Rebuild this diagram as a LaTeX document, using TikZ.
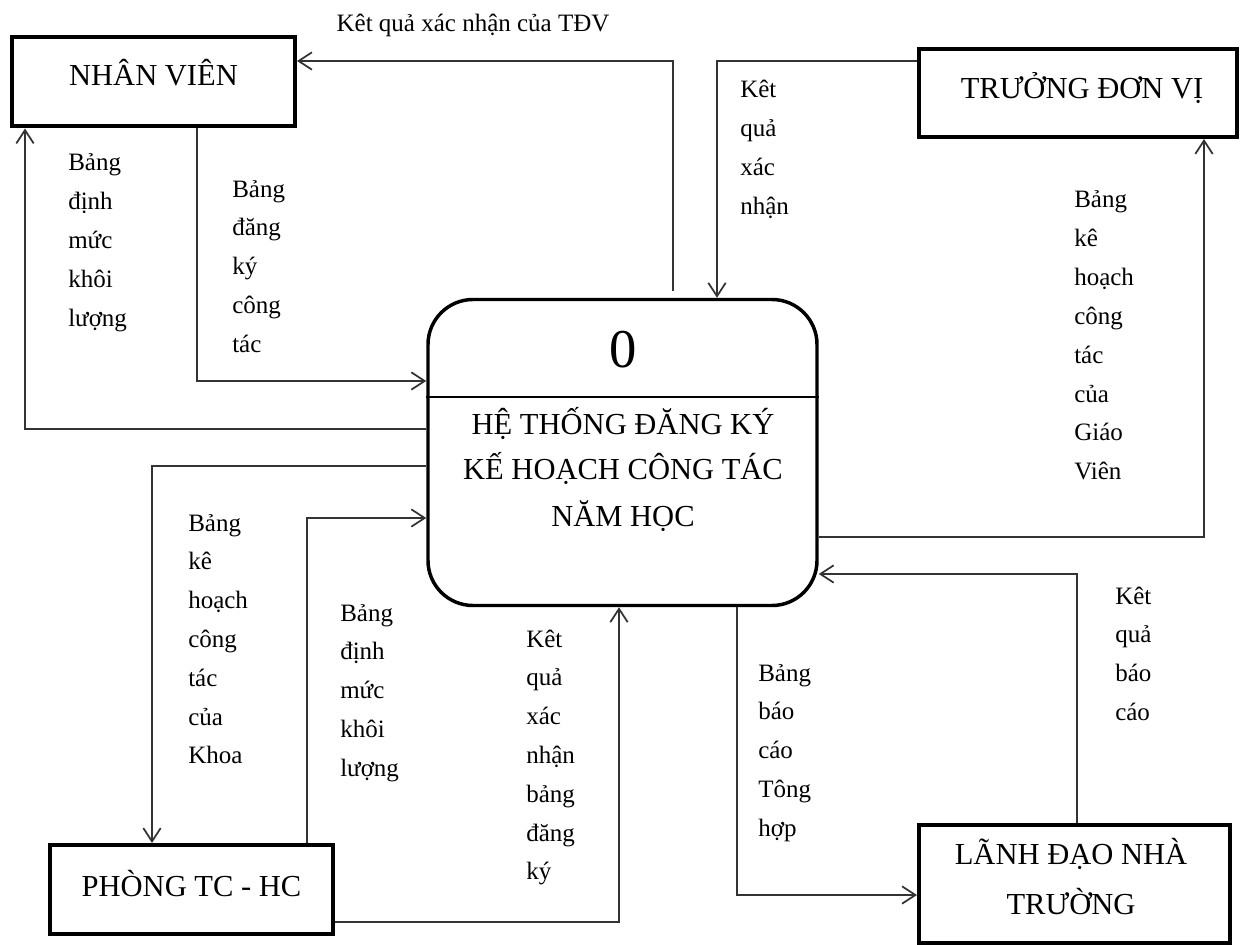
\documentclass[tikz,border=0pt]{standalone}
\usepackage{fontspec}
\setmainfont{Liberation Serif}
\usetikzlibrary{arrows.meta,calc}
\newcommand\lblfont{\fontsize{18.75}{28}\selectfont}
\newcommand\boxfont{\fontsize{22.9}{30}\selectfont}
\newcommand\zerofont{\fontsize{41}{45}\selectfont}
\newcommand\vlab[4]{%
  \foreach \w [count=\i from 0] in {#4}{\node[lbl] (#1-\i) at (#2,{#3+\i*38.8}) {\w};}}
\begin{document}
\begin{tikzpicture}[x=0.75pt,y=-0.75pt,
  ebox/.style={draw=black,line width=3pt,inner sep=0pt},
  proc/.style={draw=black,line width=2.6pt,rounded corners=33.75pt,inner sep=0pt},
  flow/.style={draw=black!80,line width=1.4pt,-{Straight Barb[length=10pt,width=13pt,line width=1.3pt]}},
  lbl/.style={anchor=base west,inner sep=0pt,font=\lblfont},
  btxt/.style={anchor=base,inner sep=0pt,font=\boxfont}]
\useasboundingbox (0,0) rectangle (1249,945);
\fill[white] (0,0) rectangle (1249,945);

% boxes
\node[ebox,minimum width=212.25pt,minimum height=66.75pt] (nv) at (153.5,82) {};
\node[ebox,minimum width=238.5pt,minimum height=66pt] (tdv) at (1078,93) {};
\node[ebox,minimum width=212.25pt,minimum height=66.75pt] (pt) at (191.5,889.5) {};
\node[ebox,minimum width=233.25pt,minimum height=88.5pt] (ld) at (1074.5,884) {};
\node[proc,minimum width=291.75pt,minimum height=229.5pt] (c) at (622.5,452.5) {};
\draw[line width=1.5pt] (c.west |- 0,397) coordinate (dl) -- (c.east |- 0,397) coordinate (dr);

% box texts
\node[btxt] (nv-t) at (153.5,86) {NHÂN VIÊN};
\node[btxt] (tdv-t) at (1082,99) {TRƯỞNG ĐƠN VỊ};
\node[btxt] (pt-t) at (191.5,896) {PHÒNG TC - HC};
\node[btxt] (ld-t1) at (1071,864) {LÃNH ĐẠO NHÀ};
\node[btxt] (ld-t2) at (1071,914) {TRƯỜNG};
\node[anchor=base,inner sep=0pt,font=\zerofont] (c-0) at (623,367) {0};
\node[btxt] (c-t1) at (623,434) {HỆ THỐNG ĐĂNG KÝ};
\node[btxt] (c-t2) at (623,479) {KẾ HOẠCH CÔNG TÁC};
\node[btxt] (c-t3) at (623,526) {NĂM HỌC};

% connectors
\draw[flow] ($(c.north -| 673,0)+(0,-7)$) |- (nv.east |- 0,61);
\draw[flow] (tdv.west |- 0,61) -| (c.north -| 717,0);
\draw[flow] (c.east |- 0,537) -| (tdv.south -| 1204,0);
\draw[flow] (c.west |- 0,429) -| (nv.south -| 25,0);
\draw[flow] (nv.south -| 197,0) |- (c.west |- 0,381);
\draw[flow] (c.west |- 0,466) -| (pt.north -| 152,0);
\draw[flow] (pt.north -| 307,0) |- (c.west |- 0,518);
\draw[flow] (pt.east |- 0,922) -| (c.south -| 619,0);
\draw[flow] (c.south -| 737,0) |- (ld.west |- 0,895);
\draw[flow] (ld.north -| 1077,0) |- (c.east |- 0,574);

% labels
\node[anchor=base,inner sep=0pt,font=\lblfont] (top-lbl) at (473,32) {Kêt quả xác nhận của TĐV};
\vlab{l1}{68}{171}{Bảng,định,mức,khôi,lượng}
\vlab{l2}{232}{197}{Bảng,đăng,ký,công,tác}
\vlab{l3}{740}{98}{Kêt,quả,xác,nhận}
\vlab{l4}{1074}{208}{Bảng,kê,hoạch,công,tác,của,Giáo,Viên}
\vlab{l5}{188}{531}{Bảng,kê,hoạch,công,tác,của,Khoa}
\vlab{l6}{340}{621}{Bảng,định,mức,khôi,lượng}
\vlab{l7}{526}{647}{Kêt,quả,xác,nhận,bảng,đăng,ký}
\vlab{l8}{758}{681}{Bảng,báo,cáo,Tông,hợp}
\vlab{l9}{1115}{604}{Kêt,quả,báo,cáo}
\end{tikzpicture}
\end{document}
